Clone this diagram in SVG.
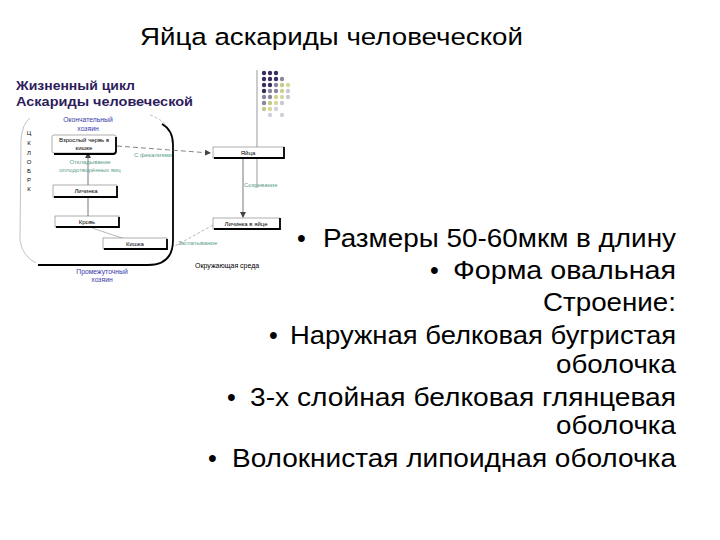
<svg xmlns="http://www.w3.org/2000/svg" width="720" height="540" viewBox="0 0 720 540">
<style>
.t{font-family:"Liberation Sans",Arial,sans-serif}
.big{font-size:25px;fill:#000}
.box{fill:#fff;stroke:#777;stroke-width:0.6}
.sh{fill:none;stroke:#000;stroke-width:1.8}
.s{font-size:6px;fill:#000}
.blue{font-size:6.8px;fill:#3a3aa8}
.green{font-size:6px;fill:#5aa08a}
.ln{fill:none;stroke:#555;stroke-width:0.8}
.dash{fill:none;stroke:#666;stroke-width:0.8;stroke-dasharray:5,3}
.dot{stroke:none}
</style>
<defs>
<marker id="ah" markerWidth="6" markerHeight="6" refX="5" refY="3" orient="auto" markerUnits="userSpaceOnUse">
<path d="M0,0 L6,3 L0,6 z" fill="#444"/>
</marker>
</defs>
<rect width="720" height="540" fill="#fff"/>

<g id="title">
<text class="t" x="140" y="45" font-size="24.5" textLength="383" lengthAdjust="spacingAndGlyphs">Яйца аскариды человеческой</text>
</g>

<g id="decor">
<line x1="257" y1="70" x2="257" y2="188" stroke="#999" stroke-width="1"/>
<g class="dot">
<circle cx="264" cy="73" r="2.2" fill="#3a2d5e"/><circle cx="270" cy="73" r="2.2" fill="#3a2d5e"/><circle cx="276" cy="73" r="2.2" fill="#3a2d5e"/>
<circle cx="264" cy="79" r="2.2" fill="#3a2d5e"/><circle cx="270" cy="79" r="2.2" fill="#3a2d5e"/><circle cx="276" cy="79" r="2.2" fill="#3a2d5e"/><circle cx="282" cy="79" r="2.2" fill="#8a86a0"/>
<circle cx="264" cy="85" r="2.2" fill="#3a2d5e"/><circle cx="270" cy="85" r="2.2" fill="#3a2d5e"/><circle cx="276" cy="85" r="2.2" fill="#8a86a0"/><circle cx="282" cy="85" r="2.2" fill="#c8c88a"/><circle cx="288" cy="85" r="2.2" fill="#d8d89a"/>
<circle cx="264" cy="91" r="2.2" fill="#3a2d5e"/><circle cx="270" cy="91" r="2.2" fill="#8a86a0"/><circle cx="276" cy="91" r="2.2" fill="#8a86a0"/><circle cx="282" cy="91" r="2.2" fill="#d0d08e"/><circle cx="288" cy="91" r="2.2" fill="#c8c8d8"/>
<circle cx="264" cy="97" r="2.2" fill="#8a86a0"/><circle cx="270" cy="97" r="2.2" fill="#8a86a0"/><circle cx="276" cy="97" r="2.2" fill="#d0d08e"/><circle cx="282" cy="97" r="2.2" fill="#d8d89a"/><circle cx="288" cy="97" r="2.2" fill="#c8c8d8"/>
<circle cx="264" cy="103" r="2.2" fill="#8a86a0"/><circle cx="270" cy="103" r="2.2" fill="#c8c88a"/><circle cx="276" cy="103" r="2.2" fill="#d8d89a"/><circle cx="282" cy="103" r="2.2" fill="#c8c8d8"/>
<circle cx="264" cy="109" r="2.2" fill="#c8c88a"/><circle cx="270" cy="109" r="2.2" fill="#d8d89a"/><circle cx="276" cy="109" r="2.2" fill="#d0d0e0"/>
<circle cx="270" cy="115" r="2.2" fill="#d0d0e0"/><circle cx="282" cy="115" r="2.2" fill="#d0d0e0"/>
</g>
</g>

<g id="cycle-heading">
<text class="t" x="16" y="90" font-size="13" font-weight="bold" fill="#2e1d5c" textLength="119" lengthAdjust="spacingAndGlyphs">Жизненный цикл</text>
<text class="t" x="16" y="106" font-size="13" font-weight="bold" fill="#2e1d5c" textLength="177" lengthAdjust="spacingAndGlyphs">Аскариды человеческой</text>
</g>

<g id="host-frame">
<path d="M30,118 Q22,124 21,140 L20,240 Q22,256 36,263" fill="none" stroke="#999" stroke-width="0.6"/>
<path d="M150,115 Q165,120 170,132" fill="none" stroke="#999" stroke-width="0.6" stroke-dasharray="3,2"/>
<path d="M162,124 Q173,130 173,145 L173,240 Q173,265 148,265 L38,265" fill="none" stroke="#000" stroke-width="1.8"/>
</g>

<g id="side-letters" class="t s" text-anchor="middle">
<text x="29" y="135">Ц</text><text x="29" y="145">К</text><text x="29" y="155">Л</text><text x="29" y="164">О</text><text x="29" y="173">Б</text><text x="29" y="182">Р</text><text x="29" y="191">К</text>
</g>

<g id="connectors">
<line class="ln" x1="88" y1="185" x2="88" y2="153" marker-end="url(#ah)"/>
<line class="ln" x1="88" y1="216" x2="88" y2="198"/>
<line x1="92" y1="228" x2="128" y2="240" stroke="#888" stroke-width="0.6"/>
<path class="dash" d="M117,146 L210,153" marker-end="url(#ah)"/>
<line class="ln" x1="243" y1="158" x2="243" y2="217" marker-end="url(#ah)"/>
<path d="M213,225 L175,246" fill="none" stroke="#888" stroke-width="0.6" stroke-dasharray="3,2"/>
</g>

<g id="label-definitive-host" class="t blue" text-anchor="middle">
<text x="88" y="122">Окончательный</text>
<text x="88" y="131">хозяин</text>
</g>

<g id="node-adult">
<rect class="box" x="52" y="135" width="64" height="18" rx="2"/>
<path class="sh" d="M116,137 L116,151 Q116,154 113,154 L54,154"/>
<text class="t s" x="84" y="142" text-anchor="middle">Взрослый червь в</text>
<text class="t s" x="84" y="150" text-anchor="middle">кишке</text>
</g>

<g id="label-laying" class="t green" text-anchor="middle">
<text x="90" y="164">Откладывание</text>
<text x="90" y="172">оплодотворённых яиц</text>
</g>

<g id="node-larva">
<rect class="box" x="53" y="185" width="64" height="12"/>
<path class="sh" d="M117,186 L117,197 L54,197"/>
<text class="t s" x="86" y="193" text-anchor="middle">Личинка</text>
</g>

<g id="node-blood">
<rect class="box" x="55" y="216" width="64" height="11"/>
<path class="sh" d="M119,217 L119,227 L56,227"/>
<text class="t s" x="87" y="223.5" text-anchor="middle">Кровь</text>
</g>

<g id="node-gut">
<rect class="box" x="103" y="238" width="64" height="11"/>
<path class="sh" d="M167,239 L167,249 L104,249"/>
<text class="t s" x="135" y="245.5" text-anchor="middle">Кишка</text>
</g>

<g id="label-intermediate" class="t blue" text-anchor="middle">
<text x="102" y="274">Промежуточный</text>
<text x="102" y="282">хозяин</text>
</g>

<g id="label-feces" class="t green">
<text x="134" y="157">С фекалиями</text>
</g>

<g id="node-eggs">
<rect class="box" x="213" y="147" width="71" height="11"/>
<path class="sh" d="M284,147 L284,158 L214,158"/>
<text class="t s" x="248" y="154.5" text-anchor="middle">Яйца</text>
</g>

<g id="label-maturing" class="t green">
<text x="244" y="187">Созревание</text>
</g>

<g id="node-egg-larva">
<rect class="box" x="213" y="218" width="67" height="11"/>
<path class="sh" d="M280,218 L280,229 L214,229"/>
<text class="t s" x="246" y="225.5" text-anchor="middle">Личинка в яйце</text>
</g>

<g id="label-swallow" class="t green">
<text x="178" y="245">Заглатывание</text>
</g>

<g id="label-env">
<text class="t" x="195" y="268" font-size="7" fill="#000">Окружающая среда</text>
</g>

<g id="bullets" class="t big">
<text x="297" y="247">•</text><text x="323" y="247" textLength="353" lengthAdjust="spacingAndGlyphs">Размеры 50-60мкм в длину</text>
<text x="430" y="279">•</text><text x="453" y="279" textLength="223" lengthAdjust="spacingAndGlyphs">Форма овальная</text>
<text x="543" y="311" textLength="133" lengthAdjust="spacingAndGlyphs">Строение:</text>
<text x="269" y="344">•</text><text x="290" y="344" textLength="386" lengthAdjust="spacingAndGlyphs">Наружная белковая бугристая</text>
<text x="556" y="373" textLength="120" lengthAdjust="spacingAndGlyphs">оболочка</text>
<text x="227" y="406">•</text><text x="250" y="406" textLength="426" lengthAdjust="spacingAndGlyphs">3-х слойная белковая глянцевая</text>
<text x="556" y="434" textLength="120" lengthAdjust="spacingAndGlyphs">оболочка</text>
<text x="208" y="467">•</text><text x="232" y="467" textLength="444" lengthAdjust="spacingAndGlyphs">Волокнистая липоидная оболочка</text>
</g>
</svg>
